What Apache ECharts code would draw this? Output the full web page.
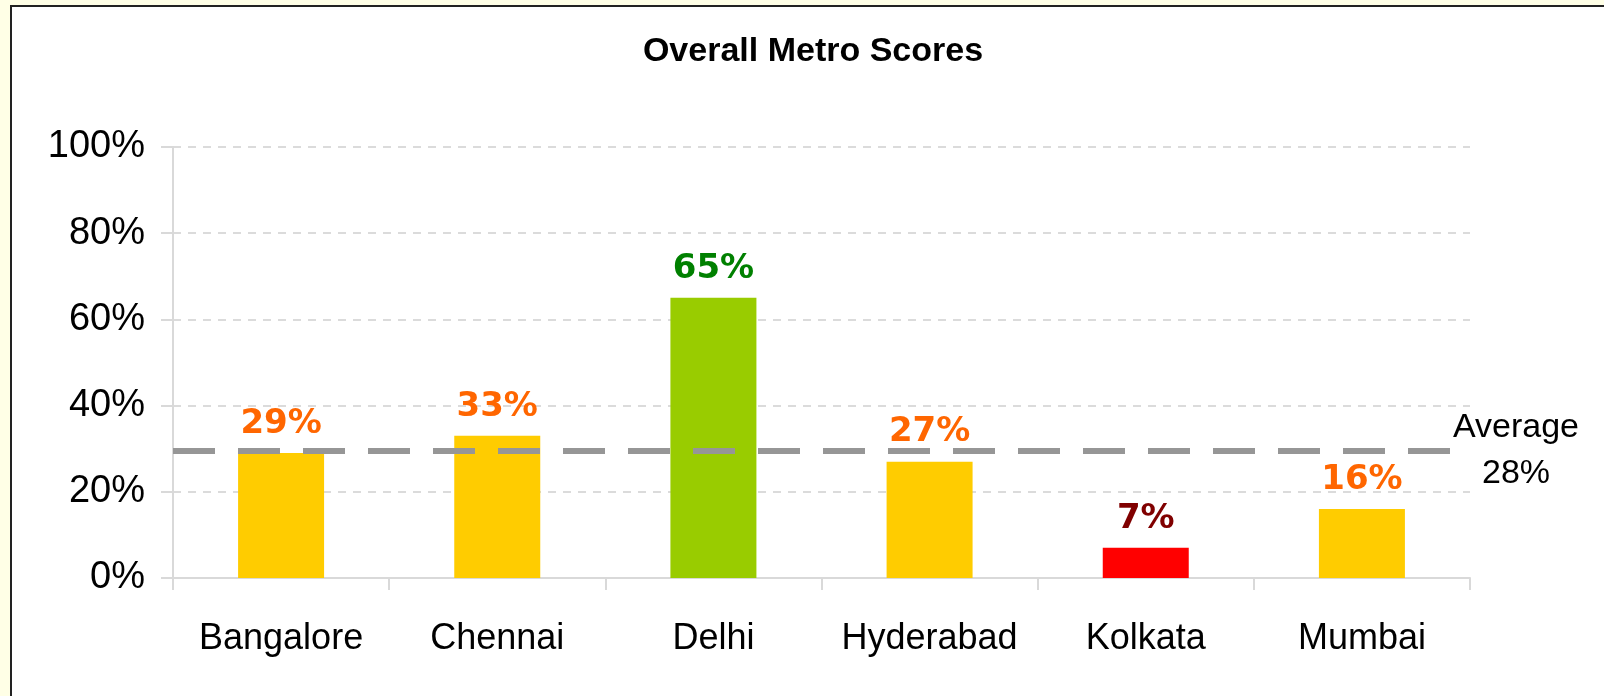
<!DOCTYPE html>
<html>
<head>
<meta charset="utf-8">
<script src="https://cdn.jsdelivr.net/npm/echarts@6/dist/echarts.min.js"></script>
<style>
  html, body { margin: 0; padding: 0; background: #FFFFE6; }
  #frame { position: absolute; left: 10px; top: 5px; width: 1600px; height: 700px;
           background: #fff; border-left: 2px solid #222; border-top: 2px solid #222; }
  #chart { position: absolute; left: 0; top: 0; width: 1604px; height: 696px; }
</style>
</head>
<body>
<div id="frame"></div>
<div id="chart"></div>
<script>
var cities = ['Bangalore', 'Chennai', 'Delhi', 'Hyderabad', 'Kolkata', 'Mumbai'];
var scores = [29, 33, 65, 27, 7, 16];
var barColors = ['#FFCC00', '#FFCC00', '#99CC00', '#FFCC00', '#FF0000', '#FFCC00'];
var labelColors = ['#FF6600', '#FF6600', '#008000', '#FF6600', '#800000', '#FF6600'];
var yTicks = [0, 20, 40, 60, 80, 100];
var avgLine = 29.5;
var avgText = '28%';

var chart = echarts.init(document.getElementById('chart'));
var option = {
    backgroundColor: 'transparent',
    animation: false,
    title: {
        text: 'Overall Metro Scores',
        left: 808,
        top: 30,
        textAlign: 'center',
        textStyle: { fontFamily: 'Liberation Sans', fontWeight: 'bold', fontSize: 34, color: '#000' }
    },
    grid: { left: 173, right: 134, top: 147, bottom: 118 },
    xAxis: {
        type: 'category',
        data: cities,
        axisLine: { lineStyle: { color: '#d9d9d9', width: 2 } },
        axisTick: { show: true, interval: 0, length: 12, lineStyle: { color: '#d9d9d9', width: 2 } },
        axisLabel: { interval: 0, fontFamily: 'Liberation Sans', fontSize: 36, color: '#000', margin: 43 }
    },
    yAxis: {
        type: 'value',
        min: yTicks[0],
        max: yTicks[yTicks.length - 1],
        interval: 20,
        axisLine: { show: true, lineStyle: { color: '#d9d9d9', width: 2 } },
        axisTick: { show: true, length: 12, lineStyle: { color: '#d9d9d9', width: 2 } },
        axisLabel: { fontFamily: 'Liberation Sans', fontSize: 38, color: '#000', margin: 28,
                     formatter: '{value}%' },
        splitLine: { lineStyle: { color: '#d0d0d0', width: 1.5, type: [8, 7] } }
    },
    series: [{
        type: 'bar',
        barWidth: 86,
        data: scores.map(function (v, i) {
            return {
                value: v,
                itemStyle: { color: barColors[i] },
                label: { color: labelColors[i] }
            };
        }),
        label: {
            show: true,
            position: 'top',
            distance: 12,
            formatter: '{c}%',
            fontFamily: 'DejaVu Sans',
            fontWeight: 'bold',
            fontSize: 34
        },
        markLine: {
            silent: true,
            symbol: 'none',
            lineStyle: { color: '#969696', width: 6, type: [42, 23] },
            data: [{ yAxis: avgLine }],
            label: {
                show: true,
                position: 'end',
                distance: -19,
                formatter: '{a|Average\n' + avgText + '}',
                rich: {
                    a: { fontFamily: 'Liberation Sans', fontSize: 34, color: '#000',
                         width: 130, align: 'center', lineHeight: 46 }
                }
            }
        },
        z: 2
    }]
};
chart.setOption(option);
</script>
</body>
</html>
